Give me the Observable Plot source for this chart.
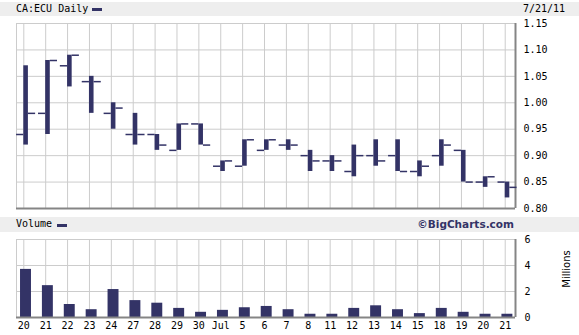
<!DOCTYPE html>
<html>
<head>
<meta charset="utf-8">
<script src="https://cdn.jsdelivr.net/npm/d3@7"></script>
<script src="https://cdn.jsdelivr.net/npm/@observablehq/plot@0.6"></script>
<style>
  html, body { margin: 0; padding: 0; background: #ffffff; }
  #chart { position: relative; width: 579px; height: 335px; overflow: hidden; background: #ffffff; }
  .band { position: absolute; left: 0; width: 579px; background: #eeeeee; }
  .hdr { position: absolute; font-family: "DejaVu Sans Mono", monospace; font-size: 10px; color: #000; white-space: nowrap; line-height: 12px; }
  .swatch { position: absolute; background: #333366; }
  .brand { position: absolute; font-family: "DejaVu Sans", sans-serif; font-weight: bold; font-size: 10.5px; color: #333366; white-space: nowrap; line-height: 13px; }
  .millions { position: absolute; font-family: "DejaVu Sans", sans-serif; font-size: 10px; color: #000; white-space: nowrap; transform: rotate(-90deg); transform-origin: center center; line-height: 10px; }
  .panel { position: absolute; left: 0; }
</style>
</head>
<body>
<div id="chart">
  <div class="band" style="top:2px;height:14px;"></div>
  <div class="hdr" style="left:16px;top:3px;">CA:ECU Daily</div>
  <div class="swatch" style="left:92px;top:8px;width:10px;height:3px;"></div>
  <div class="hdr" style="left:523px;top:3px;">7/21/11</div>

  <div class="band" style="top:217px;height:15px;"></div>
  <div class="hdr" style="left:16px;top:218px;">Volume</div>
  <div class="swatch" style="left:57px;top:224px;width:10px;height:3px;"></div>
  <div class="brand" style="right:65px;top:218px;">©BigCharts.com</div>

  <div id="pricePanel" class="panel" style="top:16px;"></div>
  <div id="volumePanel" class="panel" style="top:232px;"></div>
  <div class="millions" style="left:547px;top:264px;width:40px;text-align:center;">Millions</div>
</div>
<script>
// ---- data ----
const days = ["20","21","22","23","24","27","28","29","30","Jul","5","6","7","8","11","12","13","14","15","18","19","20","21"];
const open  = [0.94,0.98,1.07,1.04,0.98,0.94,0.94,0.91,0.96,0.88,0.88,0.91,0.92,0.90,0.89,0.87,0.90,0.90,0.87,0.90,0.91,0.85,0.85];
const high  = [1.07,1.08,1.09,1.05,1.00,0.98,0.94,0.96,0.96,0.89,0.93,0.93,0.93,0.91,0.90,0.92,0.93,0.93,0.89,0.93,0.91,0.86,0.85];
const low   = [0.92,0.94,1.03,0.98,0.95,0.92,0.91,0.91,0.92,0.87,0.88,0.91,0.91,0.87,0.87,0.86,0.88,0.87,0.86,0.88,0.85,0.84,0.82];
const close = [0.98,1.08,1.09,1.04,0.99,0.94,0.92,0.96,0.92,0.89,0.93,0.93,0.92,0.89,0.89,0.90,0.89,0.87,0.88,0.92,0.85,0.86,0.84];
const volume = [3.7,2.45,1.0,0.6,2.15,1.3,1.1,0.7,0.4,0.55,0.75,0.85,0.6,0.25,0.25,0.7,0.9,0.6,0.3,0.7,0.4,0.25,0.25];
const priceTicks = [0.80,0.85,0.90,0.95,1.00,1.05,1.10,1.15];
const volumeTicks = [0,2,4,6];

// ---- build ----
const rows = days.map((d, i) => ({i, day: d, open: open[i], high: high[i], low: low[i], close: close[i], volume: volume[i]}));
const idx = rows.map(d => d.i);
const navy = "#333366";
const grid = "#cccccc";
const dark = "#858585";
const xDomain = [-0.334, 22.47];
const font = {fontFamily: "'DejaVu Sans Mono', monospace", fontSize: "10px", color: "#000", background: "transparent", overflow: "visible"};

const price = Plot.plot({
  width: 579, height: 197,
  marginTop: 7, marginBottom: 5, marginLeft: 16, marginRight: 64,
  style: font,
  x: {domain: xDomain, axis: null},
  y: {domain: [0.80, 1.15], axis: null},
  marks: [
    Plot.ruleX(idx, {x: d => d, stroke: grid, strokeWidth: 1}),
    Plot.ruleY(priceTicks, {y: d => d, stroke: grid, strokeWidth: 1}),
    Plot.ruleX([xDomain[0]], {x: d => d, stroke: grid}),
    Plot.ruleY([1.15], {y: d => d, stroke: grid}),
    Plot.ruleY([0.80], {y: d => d, stroke: dark, strokeWidth: 2}),
    Plot.ruleX([xDomain[1]], {x: d => d, stroke: dark, strokeWidth: 2}),
    Plot.rect(rows, {x1: d => d.i, x2: d => d.i + 0.21, y1: "low", y2: "high", fill: navy}),
    Plot.ruleY(rows, {y: "open", x1: d => d.i - 0.33, x2: d => d.i, stroke: navy, strokeWidth: 1.5}),
    Plot.ruleY(rows, {y: "close", x1: d => d.i + 0.21, x2: d => d.i + 0.54, stroke: navy, strokeWidth: 1.5}),
    Plot.axisY(priceTicks, {anchor: "right", tickSize: 0, tickPadding: 8, tickFormat: d3.format(".2f"), label: null})
  ]
});
document.getElementById("pricePanel").appendChild(price);

const vol = Plot.plot({
  width: 579, height: 103,
  marginTop: 7, marginBottom: 18, marginLeft: 16, marginRight: 64,
  style: font,
  x: {domain: xDomain, axis: null},
  y: {domain: [0, 6], axis: null},
  marks: [
    Plot.ruleX(idx, {x: d => d, stroke: grid, strokeWidth: 1}),
    Plot.ruleY(volumeTicks, {y: d => d, stroke: grid, strokeWidth: 1}),
    Plot.ruleX([xDomain[0]], {x: d => d, stroke: grid}),
    Plot.ruleY([6], {y: d => d, stroke: grid}),
    Plot.rect(rows, {x1: d => d.i - 0.15, x2: d => d.i + 0.35, y1: 0, y2: "volume", fill: navy}),
    Plot.ruleY([0], {y: d => d, stroke: dark, strokeWidth: 2}),
    Plot.ruleX([xDomain[1]], {x: d => d, stroke: dark, strokeWidth: 2}),
    Plot.axisY(volumeTicks, {anchor: "right", tickSize: 0, tickPadding: 9, tickFormat: d => String(d), label: null}),
    Plot.axisX(idx, {anchor: "bottom", tickSize: 0, tickPadding: 4, tickFormat: i => days[i], label: null})
  ]
});
document.getElementById("volumePanel").appendChild(vol);
</script>
</body>
</html>
